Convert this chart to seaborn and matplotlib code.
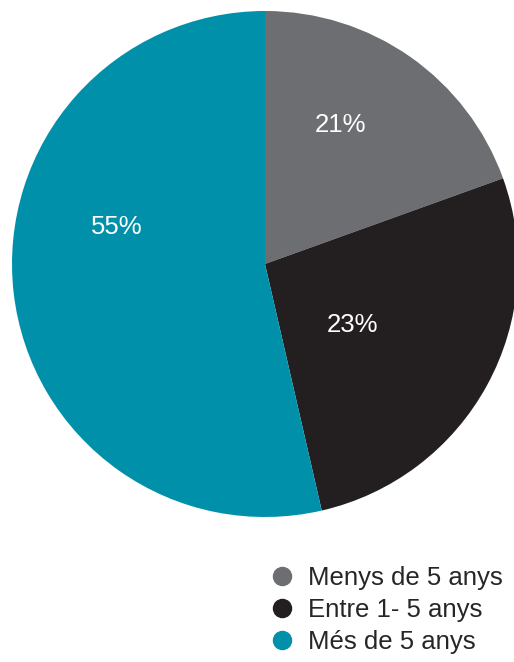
import matplotlib
matplotlib.use("Agg")
import matplotlib.pyplot as plt
from matplotlib.lines import Line2D
import seaborn as sns

categories = ["Menys de 5 anys", "Entre 1- 5 anys", "Més de 5 anys"]
values = [19.5, 26.9, 53.6]          # slice sizes as drawn
pct_labels = ["21%", "23%", "55%"]   # printed labels
colors = ["#6d6e71", "#231f20", "#0190aa"]
label_pos = [(0.30, 0.55), (0.345, -0.24), (-0.585, 0.145)]

sns.set_theme(style="white")
plt.rcParams["font.family"] = ["Liberation Sans", "DejaVu Sans"]

fig = plt.figure(figsize=(5.14, 6.62), dpi=100)
ax = fig.add_axes([12 / 514, (662 - 264 - 253) / 662, 506 / 514, 506 / 662])
ax.pie(values, colors=colors, startangle=90, counterclock=False, radius=1,
       wedgeprops=dict(linewidth=0))
for txt, (x, y) in zip(pct_labels, label_pos):
    ax.text(x, y, txt, color="white", fontsize=18.5, ha="center", va="center")
ax.set_xlim(-1, 1)
ax.set_ylim(-1, 1)
ax.set_aspect("equal")
ax.axis("off")

handles = [Line2D([0], [0], marker="o", linestyle="", markersize=13,
                  markerfacecolor=c, markeredgecolor=c) for c in colors]
fig.legend(handles, categories, loc="upper left",
           bbox_to_anchor=(269 / 514, 1 - 566 / 662), frameon=False,
           fontsize=18.5, handlelength=1.0, handletextpad=0.5,
           labelspacing=0.32, borderpad=0, borderaxespad=0)

fig.savefig("out.png", dpi=100)
